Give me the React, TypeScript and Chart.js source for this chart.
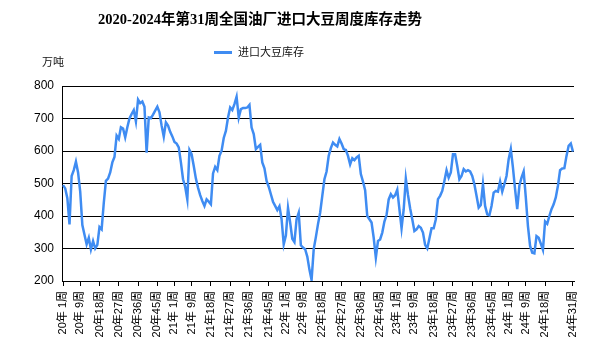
import React, { useEffect, useRef } from 'react';
import { Chart, registerables } from 'chart.js';

Chart.register(...registerables);

const titleText = '2020-2024年第31周全国油厂进口大豆周度库存走势';
const seriesName = '进口大豆库存';
const unitText = '万吨';

const years = [20, 21, 22, 23, 24];
const weeksPerYear = [52, 52, 52, 52, 31];

const stock2020 = [
  495, 485, 455, 374, 523, 541, 567, 534, 475, 372, 342, 313, 333, 297, 323, 300, 311, 366, 359, 440,
  508, 515, 534, 565, 582, 647, 637, 673, 669, 642, 673, 700, 714, 726, 691, 758, 747, 752, 736, 595,
  703, 701, 712, 724, 736, 719, 678, 644, 688, 678, 659, 645,
];
const stock2021 = [
  628, 623, 611, 565, 513, 490, 451, 603, 590, 554, 515, 487, 464, 446, 431, 451, 444, 436, 531, 551,
  541, 585, 601, 640, 662, 703, 734, 726, 744, 767, 703, 729, 732, 732, 734, 742, 672, 652, 606, 613,
  619, 565, 547, 508, 490, 467, 444, 431, 418, 430, 390, 313,
];
const stock2022 = [
  340, 425, 380, 330, 320, 390, 410, 310, 303, 298, 275, 235, 203, 298, 335, 375, 410, 462, 513, 537,
  585, 609, 626, 619, 614, 637, 623, 606, 603, 585, 559, 578, 572, 580, 585, 529, 506, 479, 400, 390,
  380, 333, 272, 323, 328, 349, 383, 403, 451, 467, 457, 464,
];
const stock2023 = [
  481, 421, 362, 420, 515, 465, 424, 390, 354, 359, 369, 364, 349, 311, 300, 331, 362, 362, 390, 452,
  462, 477, 508, 541, 518, 534, 590, 590, 554, 513, 523, 544, 537, 541, 537, 523, 498, 462, 426, 434,
  498, 431, 405, 402, 431, 472, 477, 475, 506, 475, 498, 523,
];
const stock2024 = [
  575, 606, 549, 482, 421, 493, 518, 537, 457, 369, 308, 287, 285, 338, 333, 315, 296, 383, 376, 400,
  421, 436, 457, 493, 541, 546, 547, 585, 616, 623, 598,
];

const tickLabels = [
  '20年 1周', '20年 9周', '20年18周', '20年27周', '20年36周', '20年45周',
  '21年 1周', '21年 9周', '21年18周', '21年27周', '21年36周', '21年45周',
  '22年 1周', '22年 9周', '22年18周', '22年27周', '22年36周', '22年45周',
  '23年 1周', '23年 9周', '23年18周', '23年27周', '23年36周', '23年45周',
  '24年 1周', '24年 9周', '24年18周', '24年31周',
];

const lineColor = '#3f8cf2';

function buildLabels(): string[] {
  const out: string[] = [];
  years.forEach((y, k) => {
    for (let w = 1; w <= weeksPerYear[k]; w++) {
      out.push(`${y}年${w < 10 ? ' ' : ''}${w}周`);
    }
  });
  return out;
}

const overlayPlugin = {
  id: 'overlayText',
  afterDraw(chart: any) {
    const ctx = chart.ctx as CanvasRenderingContext2D;
    ctx.save();
    ctx.fillStyle = '#000';
    ctx.font = 'bold 14.5px "Liberation Serif", "Noto Sans CJK SC", serif';
    ctx.textAlign = 'center';
    ctx.textBaseline = 'middle';
    ctx.fillText(titleText, 260, 20);

    ctx.strokeStyle = lineColor;
    ctx.lineWidth = 3;
    ctx.beginPath();
    ctx.moveTo(214, 52.5);
    ctx.lineTo(232, 52.5);
    ctx.stroke();

    ctx.fillStyle = '#111';
    ctx.font = '11px "Noto Sans CJK SC", sans-serif';
    ctx.textAlign = 'left';
    ctx.fillText(seriesName, 238, 52);
    ctx.fillText(unitText, 42, 62);
    ctx.restore();
  },
};

export default function App() {
  const ref = useRef<HTMLCanvasElement | null>(null);

  useEffect(() => {
    document.body.style.margin = '0';
    const labels = buildLabels();
    const values = [...stock2020, ...stock2021, ...stock2022, ...stock2023, ...stock2024];
    const shown = new Set(tickLabels);
    const chart = new Chart(ref.current as HTMLCanvasElement, {
      type: 'line',
      data: {
        labels,
        datasets: [
          {
            label: seriesName,
            data: values,
            borderColor: lineColor,
            backgroundColor: lineColor,
            borderWidth: 2.5,
            pointRadius: 0,
            tension: 0,
          },
        ],
      },
      options: {
        animation: false,
        responsive: false,
        devicePixelRatio: 1,
        layout: { padding: { top: 86, right: 26, left: 0, bottom: 0 } },
        plugins: {
          legend: { display: false },
          title: { display: false },
          tooltip: { enabled: false },
        },
        scales: {
          x: {
            type: 'category',
            offset: true,
            afterBuildTicks: (scale: any) => {
              scale.ticks = scale.ticks.filter((t: any) => shown.has(labels[t.value]));
            },
            afterFit: (scale: any) => {
              scale.height = 79;
            },
            grid: {
              drawOnChartArea: false,
              drawTicks: true,
              tickLength: 5,
              tickColor: '#000',
              offset: false,
            },
            border: { color: '#000', width: 1 },
            ticks: {
              autoSkip: false,
              minRotation: 90,
              maxRotation: 90,
              padding: 5,
              color: '#000',
              font: { family: '"Liberation Sans", "Noto Sans CJK SC", sans-serif', size: 11 },
            },
          },
          y: {
            min: 200,
            max: 800,
            afterFit: (scale: any) => {
              scale.width = 62;
            },
            grid: {
              color: '#000',
              lineWidth: 1,
              drawTicks: false,
            },
            border: { color: '#000', width: 1 },
            ticks: {
              stepSize: 100,
              padding: 8,
              color: '#000',
              font: { family: '"Liberation Sans", sans-serif', size: 12 },
            },
          },
        },
      },
      plugins: [overlayPlugin],
    } as any);
    return () => chart.destroy();
  }, []);

  return <canvas ref={ref} width={600} height={360} style={{ display: 'block', width: 600, height: 360 }} />;
}
